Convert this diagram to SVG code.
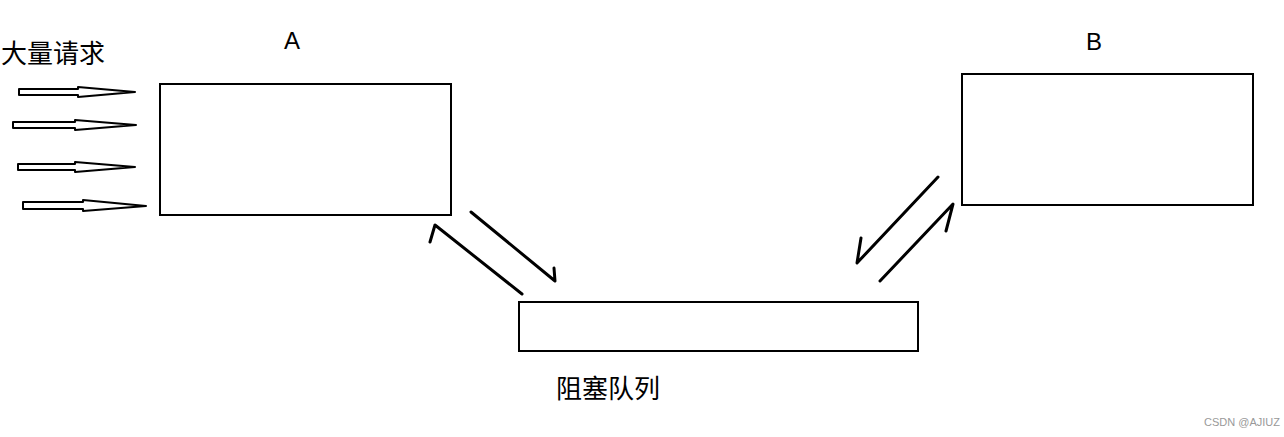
<svg xmlns="http://www.w3.org/2000/svg" width="1284" height="437" viewBox="0 0 1284 437">
<style>
.box{fill:#fff;stroke:#000;stroke-width:2}
.hollow{fill:#fff;stroke:#000;stroke-width:2;stroke-linejoin:round}
.line{fill:none;stroke:#000;stroke-width:3;stroke-linecap:round;stroke-linejoin:round}
.lbl{font-family:"Liberation Sans",sans-serif;font-size:24px;fill:#000}
.cjk{font-family:"Noto Sans CJK SC",sans-serif;font-size:26px;fill:#000}
.wm{font-family:"Liberation Sans",sans-serif;font-size:11px;fill:#999}
</style>
<rect width="1284" height="437" fill="#fff"/>
<g id="requests">
<text class="cjk" x="1" y="63">大量请求</text>
</g>
<g id="A">
<rect class="box" x="160" y="84" width="291" height="131"/>
<text class="lbl" x="292" y="49" text-anchor="middle">A</text>
</g>
<g id="B">
<rect class="box" x="962" y="74" width="291" height="131"/>
<text class="lbl" x="1094" y="50" text-anchor="middle">B</text>
</g>
<g id="queue">
<rect class="box" x="519" y="302" width="399" height="49"/>
<text class="cjk" x="608" y="398" text-anchor="middle">阻塞队列</text>
</g>
<g id="connectors">
<polygon class="hollow" points="19,89 78,89 78,87 135,92 78,97 78,95 19,95"/>
<polygon class="hollow" points="13,122 75,122 75,120 136,125 75,130 75,128 13,128"/>
<polygon class="hollow" points="18,164 75,164 75,162 135,167 75,172 75,170 18,170"/>
<polygon class="hollow" points="23,202 83,202 83,200 146,206 83,211 83,209 23,209"/>
<path class="line" d="M471,212 L555,281 L554,268"/>
<path class="line" d="M522,294 L435,225 L430,242"/>
<path class="line" d="M938,177 L857,263 L861,238"/>
<path class="line" d="M880,281 L953,204 L946,231"/>
</g>
<text class="wm" x="1204" y="426">CSDN @AJIUZ</text>
</svg>
